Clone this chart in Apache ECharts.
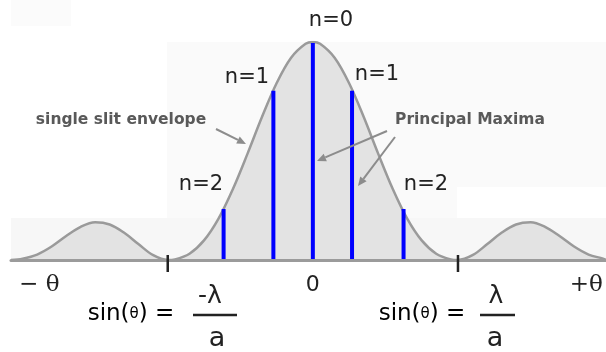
<!DOCTYPE html>
<html>
<head>
<meta charset="utf-8">
<script src="https://cdn.jsdelivr.net/npm/echarts@6/dist/echarts.min.js"></script>
<style>
  html, body { margin: 0; padding: 0; background: #fff; }
  #chart { width: 606px; height: 352px; }
</style>
</head>
<body>
<div id="chart"></div>
<script>
// Horizontal position: sin(theta) in units of lambda/a. Vertical: relative intensity.
const envelopeX = [-2.08, -2.0, -1.9, -1.8, -1.7, -1.6, -1.5, -1.4, -1.3, -1.2, -1.1,
  -1.0, -0.95, -0.85, -0.75, -0.65, -0.55, -0.45, -0.35, -0.25, -0.15, -0.05, 0,
  0.05, 0.15, 0.25, 0.35, 0.45, 0.55, 0.65, 0.75, 0.85, 0.95, 1.0,
  1.1, 1.2, 1.3, 1.4, 1.5, 1.6, 1.7, 1.8, 1.9, 2.0, 2.02];
const envelopeI = [0, 0.006, 0.025, 0.062, 0.110, 0.152, 0.173, 0.163, 0.125, 0.072, 0.022,
  0, 0.003, 0.029, 0.090, 0.190, 0.327, 0.488, 0.657, 0.811, 0.928, 0.992, 1.0,
  0.992, 0.928, 0.811, 0.657, 0.488, 0.327, 0.190, 0.090, 0.029, 0.003, 0,
  0.022, 0.072, 0.125, 0.163, 0.173, 0.152, 0.110, 0.062, 0.025, 0.006, 0];

// Principal maxima (orders n = -2 .. 2)
const maximaX = [-0.615, -0.272, 0, 0.270, 0.625];
const maximaI = [0.234, 0.776, 0.995, 0.776, 0.234];
const maximaNames = ['n=2', 'n=1', 'n=0', 'n=1', 'n=2'];

// First minima of the single-slit envelope
const minimaX = [-1, 1];

// Axis labels
const axisLabelX = [-1.885, 0, 1.885];
const axisLabelText = ['− θ', '0', '+θ'];

const envelopeData = envelopeX.map((x, i) => [x, envelopeI[i]]);
const maximaData = maximaX.map((x, i) => [x, maximaI[i]]);
const minimaData = minimaX.map(x => [x, 0]);

const DARK = '#222';
const ARROW = '#8c8c8c';

function arrow(x1, y1, x2, y2) {
  const a = Math.atan2(y2 - y1, x2 - x1);
  const L = 9, W = 4;
  const bx = x2 - L * Math.cos(a), by = y2 - L * Math.sin(a);
  return [
    { type: 'line', z: 100, shape: { x1, y1, x2: bx, y2: by },
      style: { stroke: ARROW, lineWidth: 2 } },
    { type: 'polygon', z: 100,
      shape: { points: [[x2, y2], [bx - W * Math.sin(a), by + W * Math.cos(a)], [bx + W * Math.sin(a), by - W * Math.cos(a)]] },
      style: { fill: ARROW } }
  ];
}

function txt(text, x, y, font, color) {
  return {
    type: 'text', z: 100, x, y,
    style: { text, font, fill: color, align: 'center', verticalAlign: 'middle' }
  };
}

// Order labels placed next to each maximum line
const orderLabelPos = [[201, 185], [247, 78], [331, 21], [377, 75], [426, 185]];

const sinRich = {
  a: { fontFamily: 'DejaVu Sans', fontSize: 23, color: DARK },
  b: { fontFamily: 'DejaVu Sans', fontSize: 15, color: DARK }
};

const graphics = [
  // faint background panels
  { type: 'rect', z: -5, shape: { x: 11, y: 0, width: 60, height: 26 }, style: { fill: '#fbfbfb' } },
  { type: 'rect', z: -5, shape: { x: 167, y: 42, width: 439, height: 145 }, style: { fill: '#fafafa' } },
  { type: 'rect', z: -5, shape: { x: 167, y: 187, width: 290, height: 31 }, style: { fill: '#fafafa' } },
  { type: 'rect', z: -5, shape: { x: 11, y: 218, width: 595, height: 42 }, style: { fill: '#f7f7f7' } },

  txt('single slit envelope', 121, 120, 'bold 15.5px "DejaVu Sans"', '#595959'),
  txt('Principal Maxima', 470, 120, 'bold 15.5px "DejaVu Sans"', '#595959'),
  ...arrow(216, 129, 246, 144),
  ...arrow(387, 131, 317, 161),
  ...arrow(395, 137, 358, 186),

  // sin(theta) = -lambda / a
  { type: 'text', z: 100, x: 131, y: 314,
    style: { text: '{a|sin(}{b|θ}{a|) =}', rich: sinRich, align: 'center', verticalAlign: 'middle' } },
  txt('-λ', 210, 296, '25px "DejaVu Sans"', DARK),
  { type: 'line', z: 100, shape: { x1: 193, y1: 315, x2: 237, y2: 315 }, style: { stroke: DARK, lineWidth: 2.5 } },
  txt('a', 217, 339, '27px "DejaVu Sans"', DARK),

  // sin(theta) = lambda / a
  { type: 'text', z: 100, x: 422, y: 314,
    style: { text: '{a|sin(}{b|θ}{a|) =}', rich: sinRich, align: 'center', verticalAlign: 'middle' } },
  txt('λ', 496, 296, '25px "DejaVu Sans"', DARK),
  { type: 'line', z: 100, shape: { x1: 480, y1: 315, x2: 515, y2: 315 }, style: { stroke: DARK, lineWidth: 2.5 } },
  txt('a', 495, 339, '27px "DejaVu Sans"', DARK)
];

maximaNames.forEach((name, i) => {
  graphics.push(txt(name, orderLabelPos[i][0], orderLabelPos[i][1], '21px "DejaVu Sans"', DARK));
});

const chart = echarts.init(document.getElementById('chart'), null, { renderer: 'canvas' });

chart.setOption({
  animation: false,
  backgroundColor: '#fff',
  grid: { left: 11, right: 0, top: 42, bottom: 92 },
  xAxis: {
    type: 'value',
    min: -2.08,
    max: 2.02,
    z: 10,
    splitLine: { show: false },
    axisTick: { show: false },
    axisLine: { show: true, onZero: false, lineStyle: { color: '#9b9b9b', width: 3 } },
    axisLabel: {
      show: true,
      customValues: axisLabelX,
      margin: 14,
      formatter: (v) => {
        let k = 0, best = Infinity;
        axisLabelX.forEach((x, i) => { const d = Math.abs(x - v); if (d < best) { best = d; k = i; } });
        const t = axisLabelText[k];
        return t === '0' ? '{z|' + t + '}' : '{s|' + t + '}';
      },
      rich: {
        s: { fontFamily: 'DejaVu Serif', fontSize: 23, color: DARK, lineHeight: 22 },
        z: { fontFamily: 'DejaVu Sans', fontSize: 22, color: DARK, lineHeight: 22 }
      }
    }
  },
  yAxis: {
    type: 'value', min: 0, max: 1, show: false,
    splitLine: { show: false }
  },
  graphic: graphics,
  series: [
    {
      name: 'single slit envelope',
      type: 'line',
      data: envelopeData,
      smooth: 0.35,
      showSymbol: false,
      lineStyle: { color: '#9a9a9a', width: 2.5 },
      areaStyle: { color: '#e3e3e3', opacity: 1 },
      z: 2
    },
    {
      name: 'Principal Maxima',
      type: 'custom',
      data: maximaData,
      z: 5,
      renderItem: (params, api) => {
        const p0 = api.coord([api.value(0), 0]);
        const p1 = api.coord([api.value(0), api.value(1)]);
        return {
          type: 'line',
          shape: { x1: p0[0], y1: p0[1], x2: p1[0], y2: p1[1] },
          style: { stroke: '#0000ff', lineWidth: 4 }
        };
      }
    },
    {
      name: 'minima',
      type: 'custom',
      data: minimaData,
      z: 20,
      renderItem: (params, api) => {
        const p = api.coord([api.value(0), api.value(1)]);
        return {
          type: 'line',
          shape: { x1: p[0], y1: p[1] - 5, x2: p[0], y2: p[1] + 12 },
          style: { stroke: DARK, lineWidth: 2.5 }
        };
      }
    }
  ]
});
</script>
</body>
</html>
